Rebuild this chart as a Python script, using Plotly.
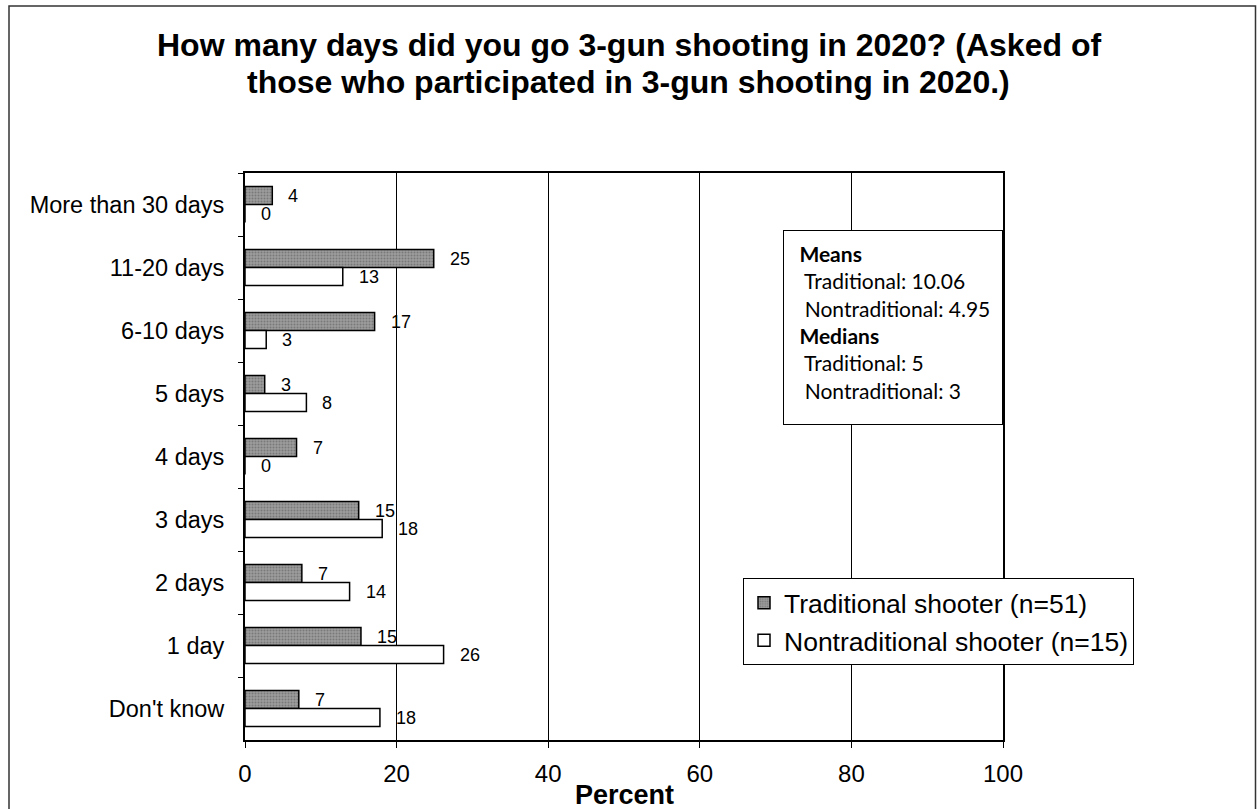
import plotly.graph_objects as go

categories = ["More than 30 days", "11-20 days", "6-10 days", "5 days", "4 days",
              "3 days", "2 days", "1 day", "Don't know"]
traditional = [3.6, 24.9, 17.1, 2.6, 6.8, 15.0, 7.5, 15.3, 7.1]
nontraditional = [0.0, 12.9, 2.8, 8.1, 0.0, 18.1, 13.8, 26.2, 17.8]
trad_labels = ["4", "25", "17", "3", "7", "15", "7", "15", "7"]
nontrad_labels = ["0", "13", "3", "8", "0", "18", "14", "26", "18"]
x_ticks = [0, 20, 40, 60, 80, 100]
series_names = ["Traditional shooter (n=51)", "Nontraditional shooter (n=15)"]
title_lines = ["How many days did you go 3-gun shooting in 2020? (Asked of",
               "those who participated in 3-gun shooting in 2020.)"]
stats_lines = ["<b>Means</b>", " Traditional: 10.06", " Nontraditional: 4.95",
               "<b>Medians</b>", " Traditional: 5", " Nontraditional: 3"]

ARIAL = "Liberation Sans, Arial, sans-serif"
W, H = 1257, 809
L, R, T, B = 245, 1003, 173, 740  # plot area in pixels
PW, PH = R - L, B - T


def px_x(x):
    return (x - L) / PW


def px_y(y):
    return (B - y) / PH


fig = go.Figure()
fig.add_trace(go.Bar(
    y=categories, x=traditional, orientation="h", name=series_names[0],
    marker=dict(color="#8f8f8f", line=dict(color="black", width=1.5),
                pattern=dict(shape=".", fgcolor="#555555", bgcolor="#9c9c9c",
                             size=3, solidity=0.35)),
))
fig.add_trace(go.Bar(
    y=categories, x=nontraditional, orientation="h", name=series_names[1],
    marker=dict(color="white", line=dict(color="black", width=1.5)),
))

annotations = []
for cat, v, lab in zip(categories, traditional, trad_labels):
    annotations.append(dict(x=v, y=cat, xref="x", yref="y", text=lab, showarrow=False,
                            xanchor="left", yanchor="middle", xshift=14, yshift=9,
                            font=dict(family=ARIAL, size=18, color="black")))
for cat, v, lab in zip(categories, nontraditional, nontrad_labels):
    annotations.append(dict(x=v, y=cat, xref="x", yref="y", text=lab, showarrow=False,
                            xanchor="left", yanchor="middle", xshift=14, yshift=-9,
                            font=dict(family=ARIAL, size=18, color="black")))

# title (two lines), centred on the page
for line, yc in zip(title_lines, [45, 82]):
    annotations.append(dict(
        x=px_x(W / 2), xref="paper", y=px_y(yc), yref="paper",
        xanchor="center", yanchor="middle",
        text="<b>" + line + "</b>", showarrow=False,
        font=dict(family=ARIAL, size=32, color="black"),
    ))

# stats box
nb = "\u00a0"
stats_text = "<br>".join((nb + s) if not s.startswith(" ") else (nb * 2 + s.strip())
                         for s in stats_lines)
annotations.append(dict(
    x=px_x(783), y=px_y(230), xref="paper", yref="paper", xanchor="left", yanchor="top",
    text=stats_text, showarrow=False, align="left",
    font=dict(family="Lato, Carlito, sans-serif", size=21, color="black"),
    bordercolor="black", borderwidth=1, borderpad=10, bgcolor="white",
    width=198, height=173, valign="top",
))
# x-axis title
annotations.append(dict(
    x=0.5, y=px_y(795), xref="paper", yref="paper", xanchor="center", yanchor="middle",
    text="<b>Percent</b>", showarrow=False,
    font=dict(family=ARIAL, size=27, color="black"),
))

fig.update_layout(
    width=W, height=H,
    paper_bgcolor="white", plot_bgcolor="white",
    margin=dict(l=L, r=W - R, t=T, b=H - B),
    barmode="group", bargap=0.43, bargroupgap=0,
    font=dict(family=ARIAL, color="black"),
    xaxis=dict(
        range=[0, 100], tickvals=x_ticks, ticktext=[str(t) for t in x_ticks],
        showgrid=True, gridcolor="black", gridwidth=1,
        showline=True, linecolor="black", linewidth=2, mirror=True,
        ticks="outside", ticklen=6, tickcolor="black", tickwidth=1,
        tickfont=dict(family=ARIAL, size=24, color="black"),
        ticklabelstandoff=5, zeroline=False, fixedrange=True,
    ),
    yaxis=dict(
        categoryorder="array", categoryarray=categories, autorange="reversed",
        showgrid=False, showline=True, linecolor="black", linewidth=2, mirror=True,
        ticks="outside", ticklen=5, tickcolor="black", tickson="boundaries",
        tickfont=dict(family=ARIAL, size=23.5, color="black"),
        ticklabelstandoff=14, zeroline=False, fixedrange=True,
    ),
    legend=dict(
        x=px_x(743), y=px_y(578), xanchor="left", yanchor="top",
        bordercolor="black", borderwidth=1, bgcolor="white",
        font=dict(family=ARIAL, size=26.5, color="black"),
        itemwidth=30, tracegroupgap=0,
    ),
    annotations=annotations,
    shapes=[dict(type="rect", xref="paper", yref="paper",
                 x0=px_x(9), x1=px_x(1255.5),
                 y0=px_y(830), y1=px_y(6),
                 line=dict(color="#333", width=1.5), fillcolor="rgba(0,0,0,0)",
                 layer="below")],
)

fig.write_html("out.html", config={"displayModeBar": False},
               post_script="document.body.style.margin='0';document.body.style.overflow='hidden';")
